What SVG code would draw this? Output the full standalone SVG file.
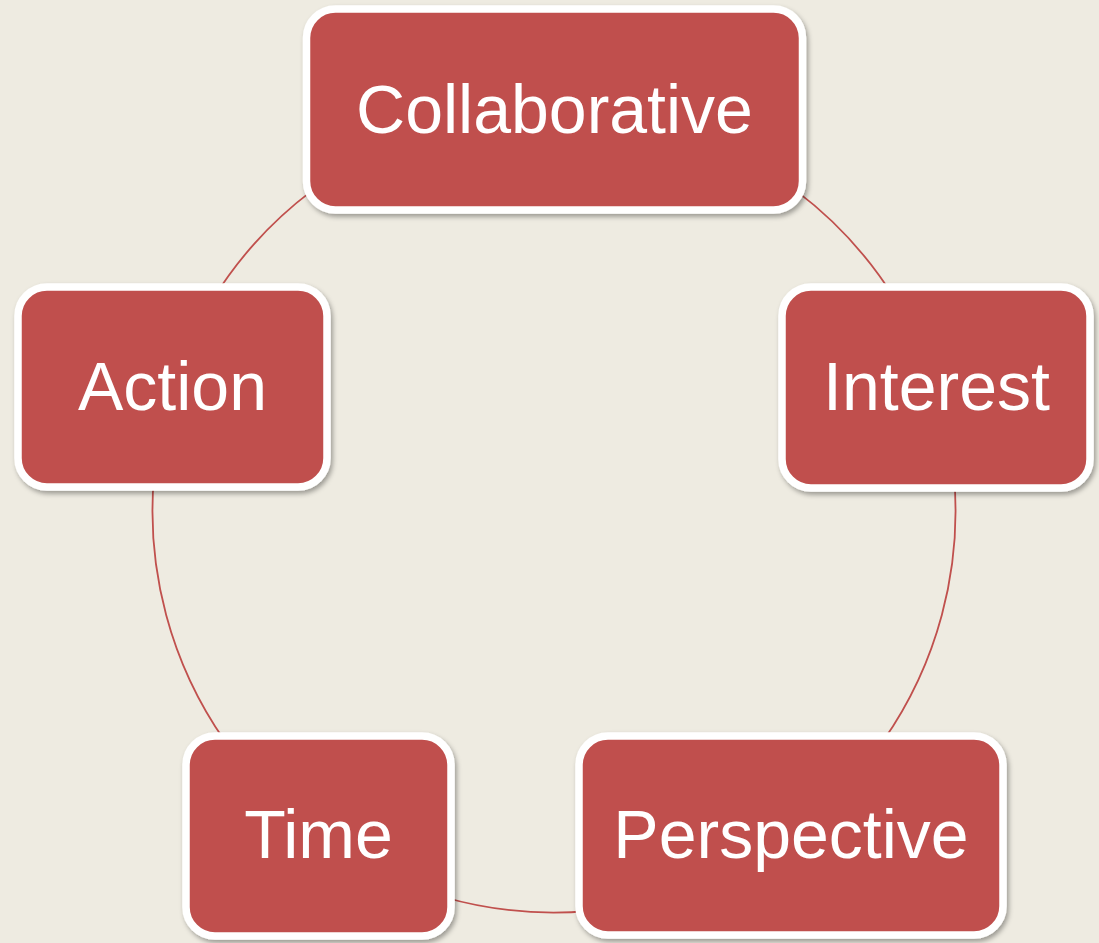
<svg xmlns="http://www.w3.org/2000/svg" width="1099" height="943" viewBox="0 0 1099 943">
  <defs>
    <filter id="shadow" x="-10%" y="-10%" width="120%" height="125%">
      <feDropShadow dx="2" dy="3" stdDeviation="2.5" flood-color="#000" flood-opacity="0.35"/>
    </filter>
  </defs>
  <style>
    .box { fill: #C0504D; stroke: #FFFFFF; stroke-width: 7.5; filter: url(#shadow); }
    .label { fill: #FFFFFF; font-family: "Liberation Sans", Arial, sans-serif; font-size: 68px; text-anchor: middle; }
    .arc { fill: none; stroke: #C0504D; stroke-width: 1.8; }
  </style>
  <rect width="1099" height="943" fill="#EEEBE1"/>
  <g id="connectors">
    <path class="arc" d="M795.6,190.4 A401.5,401.5 0 0 1 894.5,298.2"/>
    <path class="arc" d="M954,476 A401.5,401.5 0 0 1 882.9,741.3"/>
    <path class="arc" d="M589,911 A401.5,401.5 0 0 1 443.3,897"/>
    <path class="arc" d="M225.1,741.3 A401.5,401.5 0 0 1 154,476"/>
    <path class="arc" d="M213.5,298.2 A401.5,401.5 0 0 1 312.4,190.4"/>
  </g>
  <g id="node-collaborative">
    <rect class="box" x="306.5" y="9" width="496" height="201" rx="29" ry="29"/>
    <text class="label" x="554.5" y="133">Collaborative</text>
  </g>
  <g id="node-interest">
    <rect class="box" x="782" y="287" width="308" height="201" rx="29" ry="29"/>
    <text class="label" x="936.5" y="410">Interest</text>
  </g>
  <g id="node-perspective">
    <rect class="box" x="579" y="736" width="424" height="199" rx="29" ry="29"/>
    <text class="label" x="791" y="858">Perspective</text>
  </g>
  <g id="node-time">
    <rect class="box" x="186" y="736" width="265" height="200" rx="29" ry="29"/>
    <text class="label" x="318.5" y="858">Time</text>
  </g>
  <g id="node-action">
    <rect class="box" x="18" y="287" width="309" height="200" rx="29" ry="29"/>
    <text class="label" x="172.5" y="410">Action</text>
  </g>
</svg>
